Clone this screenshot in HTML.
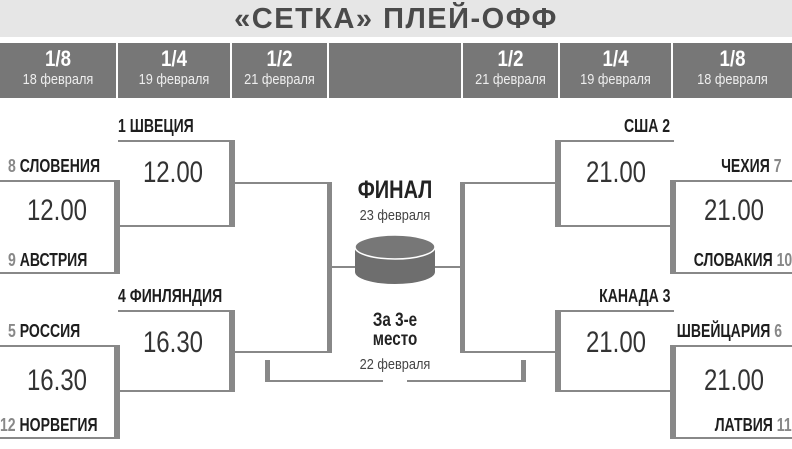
<!DOCTYPE html>
<html><head><meta charset="utf-8"><style>
html,body{margin:0;padding:0;background:#fff}
body{width:792px;height:449px;position:relative;overflow:hidden;font-family:"Liberation Sans",sans-serif}
.t{position:absolute;white-space:nowrap}
.title{left:0;top:0;width:792px;height:37px;background:#e6e6e6;text-align:center;font:900 29px/38px "Liberation Sans",sans-serif;color:#4a4a4a;letter-spacing:1.5px}
.hc{position:absolute;top:43px;height:55px;background:#777;color:#fff;text-align:center}
.hc b{display:block;font:bold 22px/24px "Liberation Sans",sans-serif;margin-top:4px;transform:scaleX(.85)}
.hc span{display:block;font:15px/18px "Liberation Sans",sans-serif;color:#eee;transform:scaleX(.85)}
.tm{font:bold 18px/20px "Liberation Sans",sans-serif;color:#1e1e1e;transform:scaleX(.78);transform-origin:left center}
.r{transform-origin:right center}
.tm i{font-style:normal;color:#888}
.time{font:30px/32px "Liberation Sans",sans-serif;color:#333;text-align:center;transform:scaleX(.8)}
</style></head><body>
<div class="t title">«СЕТКА» ПЛЕЙ-ОФФ</div>
<div class="hc" style="left:0;width:116px"><b>1/8</b><span>18 февраля</span></div>
<div class="hc" style="left:118px;width:112px"><b>1/4</b><span>19 февраля</span></div>
<div class="hc" style="left:232px;width:95px"><b>1/2</b><span>21 февраля</span></div>
<div class="hc" style="left:329px;width:132px"></div>
<div class="hc" style="left:463px;width:95px"><b>1/2</b><span>21 февраля</span></div>
<div class="hc" style="left:560px;width:111px"><b>1/4</b><span>19 февраля</span></div>
<div class="hc" style="left:673px;width:119px"><b>1/8</b><span>18 февраля</span></div>

<svg width="792" height="449" style="position:absolute;left:0;top:0">
<g stroke="#888" stroke-width="2" fill="none">
<path d="M0 181H118M0 273H118M0 346H118M0 438H118"/>
<path d="M118 141H232M118 226H232M118 311H232M118 391H232"/>
<path d="M234 183H330M234 352H330M332 267H356"/>
<path d="M792 181H674M792 273H674M792 346H674M792 438H674"/>
<path d="M674 141H558M674 226H558M674 311H558M674 391H558"/>
<path d="M556 183H462M556 352H462M460 267H435"/>
<path d="M268 381H383M407 381H524"/>
</g>
<g fill="#888">
<rect x="114" y="180" width="6" height="94"/><rect x="114" y="345" width="6" height="94"/>
<rect x="229" y="140" width="6" height="87"/><rect x="229" y="310" width="6" height="82"/>
<rect x="327" y="182" width="5" height="171"/>
<rect x="670" y="180" width="6" height="94"/><rect x="670" y="345" width="6" height="94"/>
<rect x="555" y="140" width="6" height="87"/><rect x="555" y="310" width="6" height="82"/>
<rect x="460" y="182" width="5" height="171"/>
<rect x="265" y="360" width="5" height="22"/><rect x="521" y="360" width="5" height="22"/>
</g>
<path d="M355 248V272A40 12 0 0 0 435 272V248Z" fill="#6e6e6e"/>
<ellipse cx="395" cy="247" rx="40" ry="12" fill="#777" stroke="#fff" stroke-width="1.5"/>
</svg>

<div class="t tm" style="left:118px;top:116px">1 ШВЕЦИЯ</div>
<div class="t tm" style="left:8px;top:156px"><i>8</i> СЛОВЕНИЯ</div>
<div class="t tm" style="left:8px;top:250px"><i>9</i> АВСТРИЯ</div>
<div class="t tm" style="left:118px;top:286px">4 ФИНЛЯНДИЯ</div>
<div class="t tm" style="left:8px;top:321px"><i>5</i> РОССИЯ</div>
<div class="t tm" style="left:0px;top:415px"><i>12</i> НОРВЕГИЯ</div>
<div class="t tm r" style="right:122px;top:116px">США 2</div>
<div class="t tm r" style="right:10px;top:156px">ЧЕХИЯ <i>7</i></div>
<div class="t tm r" style="right:0px;top:250px">СЛОВАКИЯ <i>10</i></div>
<div class="t tm r" style="right:122px;top:286px">КАНАДА 3</div>
<div class="t tm r" style="right:10px;top:321px">ШВЕЙЦАРИЯ <i>6</i></div>
<div class="t tm r" style="right:0px;top:415px">ЛАТВИЯ <i>11</i></div>

<div class="t time" style="left:0;width:114px;top:195px">12.00</div>
<div class="t time" style="left:118px;width:110px;top:157px">12.00</div>
<div class="t time" style="left:0;width:114px;top:365px">16.30</div>
<div class="t time" style="left:118px;width:110px;top:327px">16.30</div>
<div class="t time" style="left:561px;width:110px;top:157px">21.00</div>
<div class="t time" style="left:676px;width:116px;top:195px">21.00</div>
<div class="t time" style="left:561px;width:110px;top:327px">21.00</div>
<div class="t time" style="left:676px;width:116px;top:365px">21.00</div>

<div class="t" style="left:335px;width:120px;top:176px;text-align:center;font:bold 25px/28px 'Liberation Sans',sans-serif;color:#222;transform:scaleX(.8)">ФИНАЛ</div>
<div class="t" style="left:335px;width:120px;top:207px;text-align:center;font:15px/18px 'Liberation Sans',sans-serif;color:#444;transform:scaleX(.85)">23 февраля</div>
<div class="t" style="left:335px;width:120px;top:311px;text-align:center;font:bold 19px/19px 'Liberation Sans',sans-serif;color:#222;transform:scaleX(.8)">За 3-е<br>место</div>
<div class="t" style="left:335px;width:120px;top:356px;text-align:center;font:15px/18px 'Liberation Sans',sans-serif;color:#444;transform:scaleX(.85)">22 февраля</div>
</body></html>
